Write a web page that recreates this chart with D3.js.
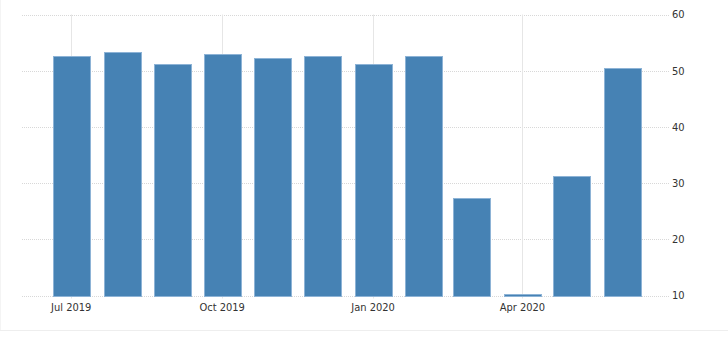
<!DOCTYPE html>
<html>
<head>
<meta charset="utf-8">
<script src="https://cdn.jsdelivr.net/npm/d3@7"></script>
<style>
  body { margin: 0; background: #fff; }
  text { font-family: "DejaVu Sans Condensed", "Liberation Sans", sans-serif; }
</style>
</head>
<body>
<script>
// monthly values, Jul 2019 - Jun 2020
var months = ["2019-07-01", "2019-08-01", "2019-09-01", "2019-10-01", "2019-11-01", "2019-12-01",
              "2020-01-01", "2020-02-01", "2020-03-01", "2020-04-01", "2020-05-01", "2020-06-01"];
var values = [52.7, 53.4, 51.2, 52.9, 52.2, 52.6, 51.2, 52.6, 27.4, 10.3, 31.2, 50.5];
var yTicks = [10, 20, 30, 40, 50, 60];
var xTicks = ["2019-07-01", "2019-10-01", "2020-01-01", "2020-04-01"];

var width = 728, height = 357;
var parse = d3.timeParse("%Y-%m-%d");
var fmt = d3.timeFormat("%b %Y");

var data = months.map(function(m, i) {
    return {date: parse(m), value: values[i]};
});

var svg = d3.select("body").append("svg")
    .attr("width", width)
    .attr("height", height);

var x = d3.scaleTime()
    .domain([parse("2019-06-01"), parse("2020-06-30")])
    .range([22, 670]);

var y = d3.scaleLinear()
    .domain([10, 60])
    .range([295.5, 14.5]);

// frame
svg.append("line")
    .attr("x1", 0).attr("x2", width)
    .attr("y1", 330.5).attr("y2", 330.5)
    .attr("stroke", "#eeeeee");
svg.append("line")
    .attr("x1", 0.5).attr("x2", 0.5)
    .attr("y1", 0).attr("y2", 330)
    .attr("stroke", "#f4f4f4");

// horizontal grid (dotted)
svg.append("g")
    .selectAll("line")
    .data(yTicks)
    .enter()
    .append("line")
    .attr("x1", 22)
    .attr("x2", 670)
    .attr("y1", function(d) { return Math.round(y(d)) + 0.5; })
    .attr("y2", function(d) { return Math.round(y(d)) + 0.5; })
    .attr("stroke", "#d8d8d8")
    .attr("stroke-dasharray", "1,1");

// vertical grid + ticks
svg.append("g")
    .selectAll("line")
    .data(xTicks.map(parse))
    .enter()
    .append("line")
    .attr("x1", function(d) { return Math.round(x(d)) + 0.5; })
    .attr("x2", function(d) { return Math.round(x(d)) + 0.5; })
    .attr("y1", y(60))
    .attr("y2", y(10) + 3)
    .attr("stroke", "#e6e6e6");

// bars
var barW = 37;
svg.append("g")
    .selectAll("rect")
    .data(data)
    .enter()
    .append("rect")
    .attr("x", function(d) { return Math.round(x(d.date) - barW / 2) + 0.5; })
    .attr("y", function(d) { return Math.round(y(d.value)) + 0.5; })
    .attr("width", barW)
    .attr("height", function(d) { return Math.max(1, Math.round(y(10)) - Math.round(y(d.value))); })
    .attr("fill", "#4682b4")
    .attr("stroke", "#8db3d6")
    .attr("stroke-width", 1);

// y labels (right)
svg.append("g")
    .selectAll("text")
    .data(yTicks)
    .enter()
    .append("text")
    .attr("x", 672)
    .attr("y", function(d) { return y(d); })
    .attr("dy", "0.35em")
    .style("font-size", "11px")
    .attr("fill", "#333")
    .text(function(d) { return d; });

// x labels
svg.append("g")
    .selectAll("text")
    .data(xTicks.map(parse))
    .enter()
    .append("text")
    .attr("x", function(d) { return x(d); })
    .attr("y", 311)
    .attr("text-anchor", "middle")
    .style("font-size", "11px")
    .attr("fill", "#333")
    .text(function(d) { return fmt(d); });
</script>
</body>
</html>
